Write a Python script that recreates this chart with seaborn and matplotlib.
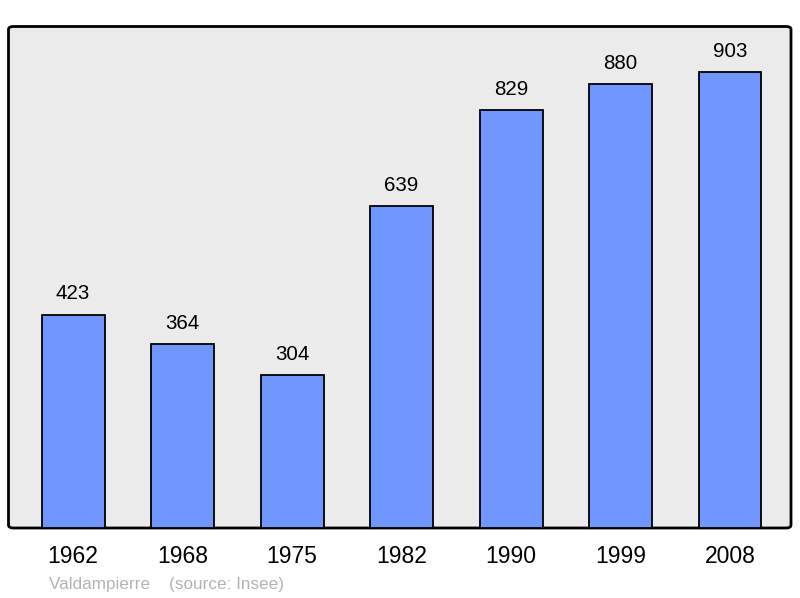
import numpy as np
import pandas as pd
import seaborn as sns
import matplotlib.pyplot as plt
from matplotlib.patches import FancyBboxPatch

# Population data (Insee)
years = ['1962', '1968', '1975', '1982', '1990', '1999', '2008']
population = [423, 364, 304, 639, 829, 880, 903]

df = pd.DataFrame({'year': years, 'population': population})

sns.set_style('white')
plt.rcParams['font.family'] = ['Liberation Sans', 'DejaVu Sans']

fig = plt.figure(figsize=(8, 5.98), dpi=100)
ax = fig.add_axes([8.5 / 800, 70 / 598, 782.5 / 800, 501.5 / 598])

sns.barplot(data=df, x='year', y='population', ax=ax, color='#7096ff',
            saturation=1, width=0.575, edgecolor='black', linewidth=1.3, zorder=3)

ax.set_xlim(-0.59, 6.557)
ax.set_ylim(0, 994)

# rounded grey frame
ax.patch.set_visible(False)
for s in ax.spines.values():
    s.set_visible(False)
frame = FancyBboxPatch((0, 0), 1, 1, boxstyle='round,pad=0,rounding_size=0.006',
                       transform=ax.transAxes, facecolor='#ebebeb', edgecolor='black',
                       linewidth=2, zorder=0, clip_on=False)
ax.add_patch(frame)

for i, v in enumerate(population):
    ax.text(i, v + 22, str(v), ha='center', va='bottom', fontsize=14.8, color='black')

ax.set_xlabel('')
ax.set_ylabel('')
ax.set_yticks([])
ax.tick_params(axis='x', length=0, labelsize=16.5, pad=12, labelcolor='black')

fig.text(49 / 800, 1 - 584 / 598, 'Valdampierre    (source: Insee)', fontsize=12.3,
         color='#b3b3b3', ha='left', va='center')

plt.savefig('out.png', dpi=100)
